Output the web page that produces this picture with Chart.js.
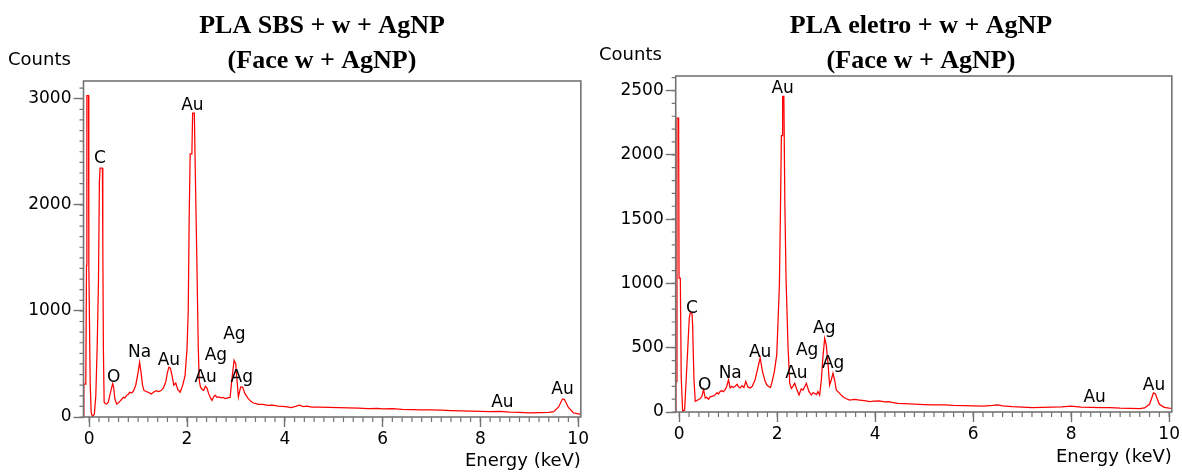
<!DOCTYPE html>
<html><head><meta charset="utf-8">
<script src="https://cdn.jsdelivr.net/npm/chart.js@4.4.0/dist/chart.umd.min.js"></script>
<style>
html,body{margin:0;padding:0;background:#fff;}
#wrap{position:relative;width:1182px;height:473px;overflow:hidden;background:#fff;}
canvas{position:absolute;top:0;}
</style></head><body>
<div id="wrap">
<canvas id="c1" width="591" height="473" style="left:0"></canvas>
<canvas id="c2" width="591" height="473" style="left:591px"></canvas>
</div>
<script>
// ---------- DATA ----------
const leftTitle = ['PLA SBS + w + AgNP', '(Face w + AgNP)'];
const rightTitle = ['PLA eletro + w + AgNP', '(Face w + AgNP)'];
const yAxisLabel = 'Counts';
const xAxisLabel = 'Energy (keV)';

const xTickValues = [0, 2, 4, 6, 8, 10];
const leftYTicks = [0, 1000, 2000, 3000];
const rightYTicks = [0, 500, 1000, 1500, 2000, 2500];

const leftEnergy = [
 -0.115,-0.11,-0.07,-0.055,-0.048,-0.015,-0.008,0.02,0.04,0.065,0.105,0.135,0.165,0.19,0.208,0.222,0.27,0.278,0.29,0.305,
 0.33,0.36,0.39,0.42,0.45,0.48,0.50,0.525,0.56,0.60,0.63,0.66,0.70,0.73,0.76,0.80,0.83,0.87,0.90,0.95,
 1.00,1.03,1.06,1.09,1.12,1.17,1.22,1.27,1.32,1.37,1.42,1.47,1.52,1.57,1.60,1.63,1.66,1.69,1.73,1.77,
 1.81,1.86,1.91,1.96,2.00,2.025,2.045,2.065,2.10,2.115,2.15,2.168,2.197,2.23,2.25,2.275,2.31,2.342,2.376,2.41,
 2.443,2.48,2.511,2.545,2.578,2.61,2.646,2.70,2.74,2.781,2.83,2.882,2.916,2.963,2.997,3.017,3.051,3.075,3.098,3.138,
 3.186,3.253,3.30,3.354,3.40,3.455,3.55,3.658,3.75,3.86,3.95,4.05,4.13,4.22,4.30,4.38,4.45,4.55,4.70,4.90,
 5.10,5.30,5.50,5.70,5.90,6.00,6.20,6.40,6.60,6.80,7.00,7.20,7.40,7.60,7.80,8.00,8.20,8.40,8.60,8.80,
 9.00,9.20,9.40,9.50,9.60,9.68,9.72,9.80,9.90,10.00,10.05
];
const leftCounts = [
 0,311,311,1430,3030,3030,1430,311,44,0,28,202,705,1300,2214,2346,2346,1617,641,139,
 125,123,140,202,260,315,280,170,123,135,150,165,186,180,202,215,233,228,240,296,
 421,516,420,300,249,240,230,217,236,249,240,249,275,340,420,469,460,400,300,320,
 260,233,296,390,641,1000,1900,2481,2481,2864,2864,2355,1600,660,345,283,260,252,290,270,
 220,180,157,190,205,185,190,180,185,173,180,185,346,535,500,377,189,240,283,280,
 220,173,150,132,128,120,118,110,112,103,100,96,89,100,112,98,102,94,92,90,
 88,86,84,80,82,76,78,72,70,68,66,64,60,58,55,54,50,52,46,44,
 40,42,44,50,95,170,165,90,40,30,25
];

const rightEnergy = [
 -0.073,-0.07,-0.05,-0.047,-0.013,-0.005,0.021,0.04,0.069,0.109,0.136,0.177,0.204,0.224,0.259,0.272,0.299,0.326,0.36,0.394,
 0.43,0.462,0.496,0.53,0.56,0.598,0.63,0.666,0.70,0.734,0.77,0.80,0.836,0.87,0.90,0.937,0.97,1.005,1.039,1.07,
 1.10,1.141,1.18,1.21,1.243,1.28,1.32,1.358,1.40,1.446,1.49,1.548,1.603,1.651,1.698,1.752,1.79,1.82,1.86,1.888,
 1.942,1.99,2.024,2.044,2.065,2.085,2.105,2.11,2.135,2.155,2.18,2.22,2.255,2.289,2.32,2.356,2.404,2.445,2.49,2.527,
 2.594,2.648,2.696,2.73,2.764,2.80,2.831,2.866,2.90,2.933,2.968,3.001,3.035,3.069,3.103,3.137,3.171,3.205,3.273,3.34,
 3.40,3.477,3.58,3.68,3.78,3.884,3.98,4.087,4.19,4.29,4.37,4.46,4.60,4.80,5.00,5.20,5.40,5.60,5.80,6.00,
 6.20,6.40,6.50,6.60,6.80,7.00,7.20,7.40,7.60,7.80,8.00,8.10,8.20,8.40,8.60,8.80,9.00,9.20,9.40,9.50,
 9.60,9.68,9.72,9.80,9.90,10.00,10.055
];
const rightCounts = [
 0,238,238,2286,2286,1042,1042,264,5,16,212,523,731,770,770,679,264,83,90,97,
 105,122,174,109,115,100,118,122,125,135,150,140,161,165,158,174,200,251,187,200,
 190,200,215,195,187,205,190,238,195,187,200,251,342,420,316,238,210,200,190,225,
 316,446,783,990,1560,2150,2150,2454,2454,1628,1030,510,223,184,200,223,171,132,180,171,
 223,158,132,150,145,135,158,132,249,430,573,521,379,210,249,301,249,171,145,119,
 105,93,98,93,88,80,84,86,78,80,72,67,66,62,58,55,56,52,50,48,
 46,52,56,48,42,38,34,36,38,40,46,42,38,36,34,34,30,28,26,32,
 60,148,140,60,36,30,28
];

const leftPeakNames  = ['C', 'O', 'Na', 'Au', 'Au', 'Ag', 'Au', 'Ag', 'Ag', 'Au', 'Au'];
const leftPeakEnergy = [0.22, 0.50, 1.03, 1.63, 2.11, 2.59, 2.38, 2.97, 3.12, 8.45, 9.68];
const leftPeakCounts = [2396, 330, 566, 488, 2893, 535, 330, 733, 330, 94, 221];

const rightPeakNames  = ['C', 'O', 'Na', 'Au', 'Au', 'Ag', 'Au', 'Ag', 'Ag', 'Au', 'Au'];
const rightPeakEnergy = [0.26, 0.52, 1.04, 1.65, 2.11, 2.61, 2.39, 2.96, 3.14, 8.48, 9.69];
const rightPeakCounts = [770, 171, 262, 430, 2478, 443, 262, 612, 340, 80, 171];

// ---------- DRAWING ----------
const AXIS = '#737373';
const SANS = '"DejaVu Sans", sans-serif';

function specPlugin(o) {
  return {
    id: 'spec',
    afterDraw(chart) {
      const ctx = chart.ctx, a = chart.chartArea;
      const xs = chart.scales.x, ys = chart.scales.y;
      ctx.save();
      ctx.strokeStyle = AXIS;
      ctx.lineWidth = 1.6;
      ctx.strokeRect(a.left, a.top, a.right - a.left, a.bottom - a.top);
      // minor ticks
      ctx.lineWidth = 1.2;
      ctx.beginPath();
      for (let i = 0; i <= 50; i++) {
        const px = xs.getPixelForValue(i * 0.2);
        ctx.moveTo(px, a.bottom); ctx.lineTo(px, a.bottom + 5);
      }
      for (let v = 0; v <= ys.max; v += o.minorY) {
        const py = ys.getPixelForValue(v);
        ctx.moveTo(a.left, py); ctx.lineTo(a.left - 4, py);
      }
      ctx.stroke();
      // peak labels
      ctx.fillStyle = '#000';
      ctx.font = '17px ' + SANS;
      ctx.textAlign = 'center';
      ctx.textBaseline = 'alphabetic';
      o.names.forEach((n, i) => {
        ctx.fillText(n, xs.getPixelForValue(o.energy[i]), ys.getPixelForValue(o.counts[i]));
      });
      // y label
      ctx.textAlign = 'left';
      ctx.font = '18px ' + SANS;
      ctx.fillText(yAxisLabel, 8, a.top - 16);
      // title
      ctx.font = 'bold 26px "Liberation Serif", serif';
      ctx.textAlign = 'center';
      ctx.fillText(o.title[0], o.titleX, 33);
      ctx.fillText(o.title[1], o.titleX, 68);
      ctx.restore();
    }
  };
}

function makeChart(id, o) {
  const pts = o.E.map((e, i) => ({ x: e, y: o.C[i] }));
  return new Chart(document.getElementById(id), {
    type: 'scatter',
    data: { datasets: [{ data: pts, showLine: true, borderColor: '#ff0000', borderWidth: 1.25,
      pointRadius: 0, pointHoverRadius: 0, tension: 0, fill: false }] },
    options: {
      responsive: false, animation: false, devicePixelRatio: 1,
      layout: { autoPadding: false, padding: { top: o.top, right: o.right, left: 0, bottom: 0 } },
      plugins: { legend: { display: false }, tooltip: { enabled: false }, title: { display: false } },
      events: [],
      scales: {
        x: {
          type: 'linear', min: o.xmin, max: o.xmax,
          afterBuildTicks: s => { s.ticks = xTickValues.map(v => ({ value: v })); },
          afterFit: s => { s.height = o.xh; },
          border: { display: false },
          grid: { display: true, drawOnChartArea: false, drawTicks: true, tickLength: 10, tickColor: AXIS, tickWidth: 1.4 },
          ticks: { color: '#000', font: { family: 'DejaVu Sans', size: 17 }, padding: 2, maxRotation: 0, autoSkip: false,
            callback: v => String(v) },
          title: { display: true, text: xAxisLabel, align: 'end', color: '#000',
            font: { family: 'DejaVu Sans', size: 18 }, padding: { top: 0, bottom: o.titlePad } }
        },
        y: {
          type: 'linear', min: 0, max: o.ymax,
          afterBuildTicks: s => { s.ticks = o.yTicks.map(v => ({ value: v })); },
          afterFit: s => { s.width = o.yw; },
          border: { display: false },
          grid: { display: true, drawOnChartArea: false, drawTicks: true, tickLength: 10, tickColor: AXIS, tickWidth: 1.4 },
          ticks: { color: '#000', font: { family: 'DejaVu Sans', size: 17 }, padding: 2, autoSkip: false,
            callback: v => String(v) }
        }
      }
    },
    plugins: [specPlugin(o)]
  });
}

makeChart('c1', {
  E: leftEnergy, C: leftCounts, yTicks: leftYTicks,
  xmin: -0.117, xmax: 10.055, ymax: 3167,
  top: 81, right: 5, yw: 83.5, xh: 56, titlePad: 1, minorY: 100,
  names: leftPeakNames, energy: leftPeakEnergy, counts: leftPeakCounts,
  title: leftTitle, titleX: 322
});
makeChart('c2', {
  E: rightEnergy, C: rightCounts, yTicks: rightYTicks,
  xmin: -0.073, xmax: 10.055, ymax: 2613,
  top: 76, right: 9, yw: 84.7, xh: 61, titlePad: 4.5, minorY: 100,
  names: rightPeakNames, energy: rightPeakEnergy, counts: rightPeakCounts,
  title: rightTitle, titleX: 330
});
</script>
</body></html>
